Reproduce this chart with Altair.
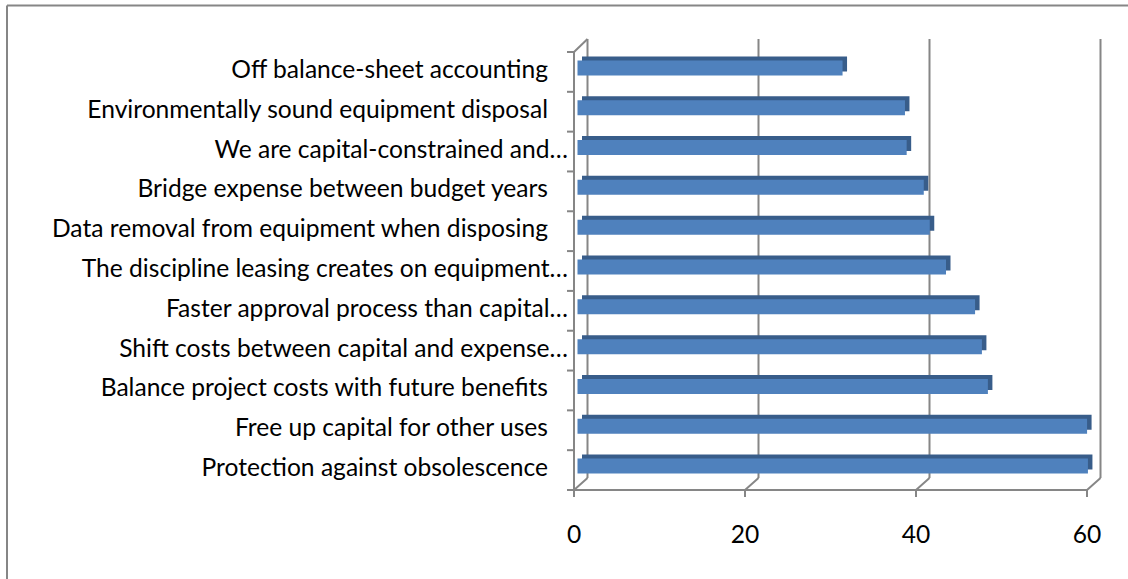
import altair as alt
import pandas as pd

categories = [
    "Off balance-sheet accounting",
    "Environmentally sound equipment disposal",
    "We are capital-constrained and…",
    "Bridge expense between budget years",
    "Data removal from equipment when disposing",
    "The discipline leasing creates on equipment…",
    "Faster approval process than capital…",
    "Shift costs between capital and expense…",
    "Balance project costs with future benefits",
    "Free up capital for other uses",
    "Protection against obsolescence",
]
values = [31.0, 38.3, 38.5, 40.5, 41.2, 43.1, 46.5, 47.3, 48.0, 59.6, 59.7]
x_ticks = [0, 20, 40, 60]

W, H = 513, 438
FONT = "Lato"
FS = 24.6
GRAY = "#868686"

df = pd.DataFrame({"cat": categories, "val": values})
ticks_df = pd.DataFrame({"t": x_ticks})
one = pd.DataFrame({"k": [0]})

xs = alt.Scale(domain=[0, 60], nice=False, zero=True)
ys = alt.Scale(domain=categories, paddingInner=0, paddingOuter=0)

step = H / len(categories)

# chart border
border_top = alt.Chart(one).mark_rule(color=GRAY, strokeWidth=2, clip=False).encode(
    x=alt.value(-567), x2=alt.value(600), y=alt.value(-46.5))
border_left = alt.Chart(one).mark_rule(color=GRAY, strokeWidth=2, clip=False).encode(
    x=alt.value(-567), y=alt.value(-46.5), y2=alt.value(600))

# back wall gridlines
back_grid = alt.Chart(ticks_df).mark_rule(color=GRAY, strokeWidth=2, xOffset=13.5).encode(
    x=alt.X("t:Q", scale=xs, axis=None), y=alt.value(-13), y2=alt.value(H - 12))

# floor diagonals
floor_diag = alt.Chart(ticks_df).mark_rule(color=GRAY, strokeWidth=2, x2Offset=13.5).encode(
    x=alt.X("t:Q", scale=xs, axis=None), x2="t:Q", y=alt.value(H), y2=alt.value(H - 12))

top_diag = alt.Chart(one).mark_rule(color=GRAY, strokeWidth=2).encode(
    x=alt.value(0), x2=alt.value(13.5), y=alt.value(0), y2=alt.value(-13))

# front axes
left_axis = alt.Chart(one).mark_rule(color=GRAY, strokeWidth=2).encode(
    x=alt.value(0), y=alt.value(0), y2=alt.value(H))
bottom_axis = alt.Chart(one).mark_rule(color=GRAY, strokeWidth=2).encode(
    x=alt.value(0), x2=alt.value(W), y=alt.value(H))
bottom_ticks = alt.Chart(ticks_df).mark_rule(color=GRAY, strokeWidth=2).encode(
    x=alt.X("t:Q", scale=xs, axis=None), y=alt.value(H), y2=alt.value(H + 7))
left_ticks = alt.Chart(df).mark_rule(color=GRAY, strokeWidth=2, yOffset=-step / 2).encode(
    y=alt.Y("cat:N", scale=ys, sort=None, axis=None), x=alt.value(-7), x2=alt.value(0))
left_tick_last = alt.Chart(one).mark_rule(color=GRAY, strokeWidth=2).encode(
    y=alt.value(H), x=alt.value(-7), x2=alt.value(0))

# bars (pseudo 3D)
bar_back = alt.Chart(df).mark_bar(color="#385d8a", size=15, xOffset=8, yOffset=-8, x2Offset=8).encode(
    y=alt.Y("cat:N", scale=ys, sort=None, axis=None),
    x=alt.X("val:Q", scale=xs, axis=None), x2=alt.datum(0))
bar_front = alt.Chart(df).mark_bar(color="#4f81bd", size=15, xOffset=3.5, yOffset=-4, x2Offset=3.5).encode(
    y=alt.Y("cat:N", scale=ys, sort=None, axis=None),
    x=alt.X("val:Q", scale=xs, axis=None), x2=alt.datum(0))

# category labels
lab_full = alt.Chart(df).transform_filter("indexof(datum.cat, '…') < 0").mark_text(
    align="right", baseline="middle", font=FONT, fontSize=FS, color="black", dy=-1).encode(
    y=alt.Y("cat:N", scale=ys, sort=None, axis=None), x=alt.value(-26), text="cat:N")
lab_trunc = alt.Chart(df).transform_filter("indexof(datum.cat, '…') >= 0").mark_text(
    align="right", baseline="middle", font=FONT, fontSize=FS, color="black", dy=-1).encode(
    y=alt.Y("cat:N", scale=ys, sort=None, axis=None), x=alt.value(-6), text="cat:N")

# x tick labels
x_labels = alt.Chart(ticks_df).mark_text(
    align="center", baseline="middle", font=FONT, fontSize=FS, color="black").encode(
    x=alt.X("t:Q", scale=xs, axis=None), y=alt.value(H + 46), text="t:Q")

chart = alt.layer(
    border_top, border_left, back_grid, floor_diag, top_diag,
    left_axis, bottom_axis, bottom_ticks, left_ticks, left_tick_last,
    bar_back, bar_front, lab_full, lab_trunc, x_labels,
).properties(
    width=W, height=H,
    autosize=alt.AutoSizeParams(type="none"),
    padding={"left": 574, "top": 52, "right": 1128 - 574 - W, "bottom": 579 - 52 - H},
    background="white",
).configure_view(stroke=None)

chart.save("out.html", embed_options={"renderer": "svg", "actions": False})
